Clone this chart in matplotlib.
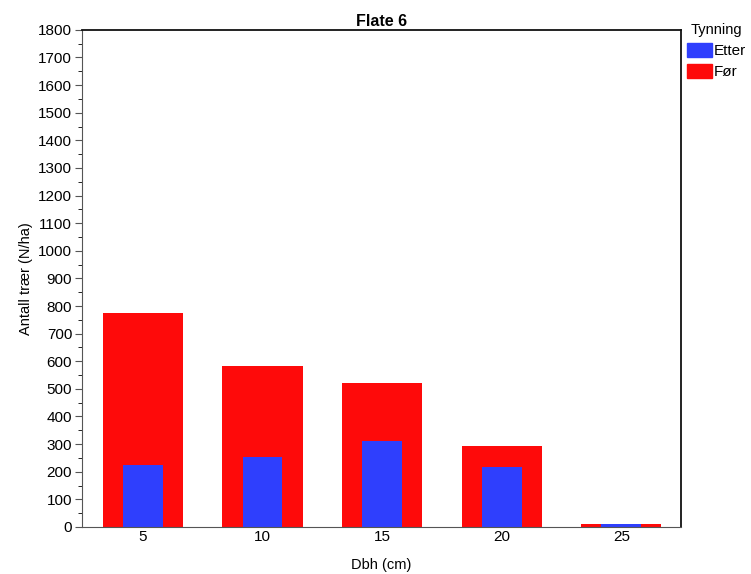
import matplotlib
matplotlib.use("Agg")
import matplotlib.pyplot as plt
from matplotlib.patches import Patch
from matplotlib.ticker import MultipleLocator

plt.rcParams['font.family'] = ['Liberation Sans', 'DejaVu Sans']

# data
dbh = [5, 10, 15, 20, 25]
foer = [773, 584, 523, 294, 12]
etter = [223, 252, 310, 216, 12]

red = "#fe0a0a"
blue = "#2f3ffd"

fig = plt.figure(figsize=(7.51, 5.74), dpi=100)
ax = fig.add_axes([0.109, 0.082, 0.798, 0.866])

ax.bar(dbh, foer, width=3.35, color=red)
ax.bar(dbh, etter, width=1.67, color=blue)

ax.set_xlim(2.45, 27.5)
ax.set_ylim(0, 1800)
ax.set_xticks(dbh)
ax.yaxis.set_major_locator(MultipleLocator(100))
ax.yaxis.set_minor_locator(MultipleLocator(50))
ax.tick_params(axis='both', labelsize=11, direction='out', color='#555555')
ax.tick_params(axis='y', which='major', length=5, pad=2)
ax.tick_params(axis='y', which='minor', length=3)
ax.tick_params(axis='x', length=0, pad=2)

for s in ['left', 'bottom']:
    ax.spines[s].set_color('#555555')
for s in ['top', 'right']:
    ax.spines[s].set_color('#111111')
    ax.spines[s].set_linewidth(1.3)

ax.set_title("Flate 6", fontsize=11.5, fontweight='bold', pad=3)
ax.set_xlabel("Dbh (cm)", fontsize=10.5, labelpad=10)
ax.set_ylabel("Antall trær (N/ha)", fontsize=10.5, labelpad=4)

handles = [Patch(color=blue, label="Etter"), Patch(color=red, label="Før")]
fig.legend(handles=handles, title="Tynning", loc='upper left',
           bbox_to_anchor=(0.907, 0.97), frameon=False, fontsize=11,
           title_fontsize=10.5, handlelength=1.6, handleheight=1.1,
           handletextpad=0.15, borderaxespad=0, labelspacing=0.35)

fig.savefig("out.png", dpi=100)
